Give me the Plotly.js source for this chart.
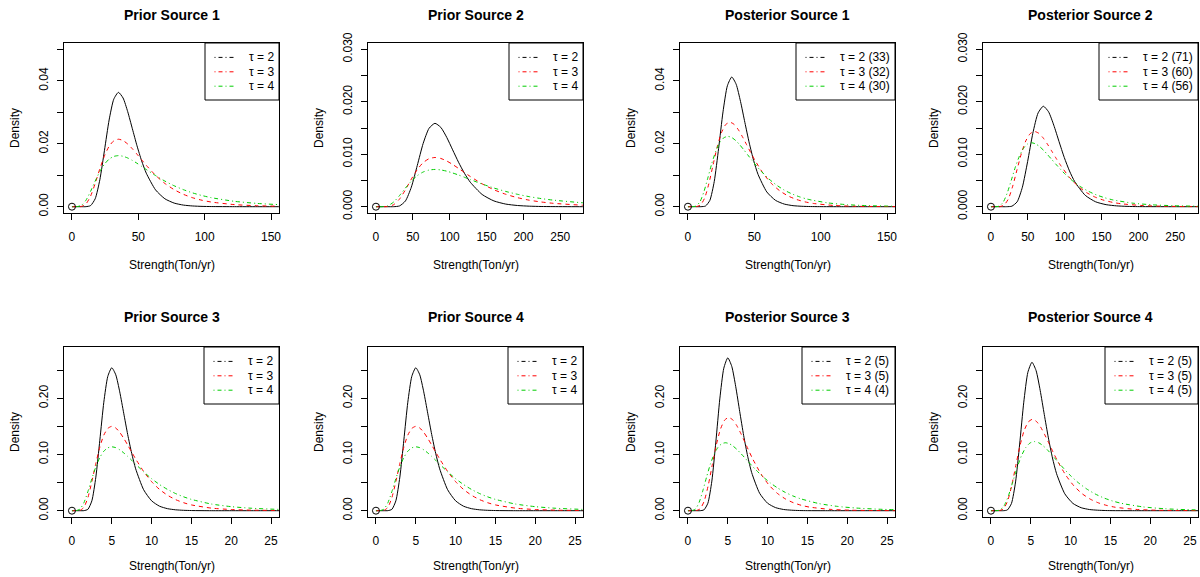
<!DOCTYPE html>
<html><head><meta charset="utf-8">
<script src="https://cdn.plot.ly/plotly-3.0.1.min.js"></script>
<style>html,body{margin:0;padding:0;background:#fff}#chart{width:1200px;height:577px}</style>
</head><body><div id="chart"></div>
<script>
// ---------------- data ----------------
const panelTitles = ["Prior Source 1","Prior Source 2","Posterior Source 1","Posterior Source 2",
                     "Prior Source 3","Prior Source 4","Posterior Source 3","Posterior Source 4"];
const xAxisLabel = "Strength(Ton/yr)";
const yAxisLabel = "Density";

const priorLegend = ["τ = 2","τ = 3","τ = 4"];
const post1Legend = ["τ = 2 (33)","τ = 3 (32)","τ = 4 (30)"];
const post2Legend = ["τ = 2 (71)","τ = 3 (60)","τ = 4 (56)"];
const post3Legend = ["τ = 2 (5)","τ = 3 (5)","τ = 4 (4)"];
const post4Legend = ["τ = 2 (5)","τ = 3 (5)","τ = 4 (5)"];

// tick values / labels
const xTicks150 = [0,50,100,150];
const xTicks270 = [0,50,100,150,200,250];
const xTicks25  = [0,5,10,15,20,25];
const yTicks05  = [0,0.01,0.02,0.03,0.04,0.05];
const yLabels05 = ["0.00","","0.02","","0.04",""];
const yTicks03  = [0,0.005,0.01,0.015,0.02,0.025,0.03];
const yLabels03 = ["0.000","","0.010","","0.020","","0.030"];
const yTicks28  = [0,0.05,0.1,0.15,0.2,0.25];
const yLabels28 = ["0.00","","0.10","","0.20",""];

// Prior Source 1
const prior1X    = [0,3.5,7,10.5,14,17.5,21,24.5,28,31.5,35,38.5,42,45.5,49,52.5,56,63,70,77,84,91,98,105,122.5,140,157.5,182,210];
const prior1Tau2 = [0,0,0,0.00001,0.00034,0.00252,0.00853,0.01792,0.02755,0.03415,0.03632,0.03454,0.0302,0.02478,0.01936,0.01457,0.01065,0.00533,0.00252,0.00115,0.00051,0.00023,0.0001,0.00005,0.00001,0,0,0,0];
const prior1Tau3 = [0,0,0.00007,0.00086,0.00333,0.0074,0.01203,0.01617,0.0192,0.02092,0.02144,0.02101,0.01991,0.0184,0.01668,0.01489,0.01314,0.00997,0.00739,0.00541,0.00392,0.00283,0.00205,0.00148,0.00066,0.0003,0.00014,0.00005,0.00002];
const prior1Tau4 = [0,0.00001,0.00039,0.00202,0.00486,0.00814,0.01116,0.01352,0.01511,0.01597,0.01623,0.01602,0.01548,0.01471,0.0138,0.01282,0.01182,0.00988,0.00814,0.00665,0.0054,0.00437,0.00354,0.00287,0.0017,0.00103,0.00063,0.00033,0.00016];

// Prior Source 2
const prior2X    = [0,8,16,24,32,40,48,56,64,72,80,88,96,104,112,120,128,144,160,176,192,208,224,240,280,320,360,416,480];
const prior2Tau2 = [0,0,0,0.000005,0.00015,0.0011,0.00373,0.00784,0.01205,0.01494,0.01589,0.01511,0.01321,0.01084,0.00847,0.00637,0.00466,0.00233,0.0011,0.0005,0.00023,0.0001,0.00004,0.00002,0,0,0,0,0];
const prior2Tau3 = [0,0,0.00003,0.00038,0.00146,0.00324,0.00526,0.00708,0.0084,0.00915,0.00938,0.00919,0.00871,0.00805,0.0073,0.00652,0.00575,0.00436,0.00323,0.00237,0.00172,0.00124,0.0009,0.00065,0.00029,0.00013,0.00006,0.00002,0.00001];
const prior2Tau4 = [0,0,0.00017,0.00089,0.00213,0.00356,0.00488,0.00592,0.00661,0.00699,0.0071,0.00701,0.00677,0.00643,0.00604,0.00561,0.00517,0.00432,0.00356,0.00291,0.00236,0.00191,0.00155,0.00126,0.00075,0.00045,0.00028,0.00014,0.00007];

// Prior Source 3
const prior3X    = [0,0.5,1,1.5,2,2.5,3,3.5,4,4.5,5,5.5,6,6.5,7,7.5,8,9,10,11,12,13,14,15,17.5,20,22.5,26,30];
const prior3Tau2 = [0,0,0,0.0001,0.0024,0.0176,0.0597,0.1254,0.1929,0.239,0.2543,0.2418,0.2114,0.1734,0.1355,0.102,0.0745,0.0373,0.0176,0.008,0.0036,0.0016,0.0007,0.0003,0,0,0,0,0];
const prior3Tau3 = [0,0,0.0005,0.006,0.0233,0.0518,0.0842,0.1132,0.1344,0.1464,0.1501,0.1471,0.1394,0.1288,0.1168,0.1042,0.092,0.0698,0.0517,0.0378,0.0275,0.0198,0.0143,0.0103,0.0046,0.0021,0.001,0.0004,0.0001];
const prior3Tau4 = [0,0.0001,0.0028,0.0142,0.034,0.057,0.0781,0.0946,0.1058,0.1118,0.1136,0.1122,0.1083,0.1029,0.0966,0.0897,0.0827,0.0692,0.057,0.0465,0.0378,0.0306,0.0248,0.0201,0.0119,0.0072,0.0044,0.0023,0.0011];

// Prior Source 4
const prior4X    = [0,0.5,1,1.5,2,2.5,3,3.5,4,4.5,5,5.5,6,6.5,7,7.5,8,9,10,11,12,13,14,15,17.5,20,22.5,26,30];
const prior4Tau2 = [0,0,0,0.0001,0.0024,0.0176,0.0597,0.1254,0.1929,0.239,0.2543,0.2418,0.2114,0.1734,0.1355,0.102,0.0745,0.0373,0.0176,0.008,0.0036,0.0016,0.0007,0.0003,0,0,0,0,0];
const prior4Tau3 = [0,0,0.0005,0.006,0.0233,0.0518,0.0842,0.1132,0.1344,0.1464,0.1501,0.1471,0.1394,0.1288,0.1168,0.1042,0.092,0.0698,0.0517,0.0378,0.0275,0.0198,0.0143,0.0103,0.0046,0.0021,0.001,0.0004,0.0001];
const prior4Tau4 = [0,0.0001,0.0028,0.0142,0.034,0.057,0.0781,0.0946,0.1058,0.1118,0.1136,0.1122,0.1083,0.1029,0.0966,0.0897,0.0827,0.0692,0.057,0.0465,0.0378,0.0306,0.0248,0.0201,0.0119,0.0072,0.0044,0.0023,0.0011];

// Posterior Source 1
const post1Tau2X = [0,3.3,6.6,9.9,13.2,16.5,19.8,23.1,26.4,29.7,33,36.3,39.6,42.9,46.2,49.5,52.8,59.4,66,72.6,79.2,85.8,92.4,99,115.5,132,148.5,171.6,198];
const post1Tau2Y = [0,0,0,0.00001,0.00021,0.00201,0.00799,0.01851,0.03012,0.03842,0.04119,0.03891,0.03342,0.02672,0.02021,0.01465,0.01027,0.00469,0.00201,0.00083,0.00033,0.00013,0.00005,0.00002,0,0,0,0,0];
const post1Tau3X = [0,3.15,6.3,9.45,12.6,15.75,18.9,22.05,25.2,28.35,31.5,34.65,37.8,40.95,44.1,47.25,50.4,56.7,63,69.3,75.6,81.9,88.2,94.5,110.25,126,141.75,163.8,189];
const post1Tau3Y = [0,0,0.00003,0.00053,0.00277,0.00733,0.01326,0.01904,0.02347,0.02606,0.02685,0.0262,0.02455,0.02229,0.01977,0.01722,0.01478,0.01055,0.00732,0.005,0.00338,0.00228,0.00153,0.00103,0.00038,0.00015,0.00006,0.00002,0];
const post1Tau4X = [0,3,6,9,12,15,18,21,24,27,30,33,36,39,42,45,48,54,60,66,72,78,84,90,105,120,135,156,180];
const post1Tau4Y = [0,0,0.00019,0.00153,0.00473,0.00919,0.01379,0.01766,0.02038,0.02189,0.02234,0.02197,0.02101,0.01967,0.01812,0.01648,0.01485,0.01179,0.00919,0.00708,0.00541,0.00413,0.00315,0.0024,0.00123,0.00064,0.00034,0.00015,0.00006];

// Posterior Source 2
const post2Tau2X = [0,7.1,14.2,21.3,28.4,35.5,42.6,49.7,56.8,63.9,71,78.1,85.2,92.3,99.4,106.5,113.6,127.8,142,156.2,170.4,184.6,198.8,213,248.5,284,319.5,369.2,426];
const post2Tau2Y = [0,0,0,0,0.0001,0.00093,0.00371,0.0086,0.014,0.01786,0.01915,0.01809,0.01554,0.01242,0.00939,0.00681,0.00477,0.00218,0.00093,0.00039,0.00016,0.00006,0.00002,0.00001,0,0,0,0,0];
const post2Tau3X = [0,5.9,11.8,17.7,23.6,29.5,35.4,41.3,47.2,53.1,59,64.9,70.8,76.7,82.6,88.5,94.4,106.2,118,129.8,141.6,153.4,165.2,177,206.5,236,265.5,306.8,354];
const post2Tau3Y = [0,0,0.00001,0.00029,0.00148,0.00391,0.00708,0.01016,0.01253,0.01391,0.01434,0.01399,0.01311,0.0119,0.01056,0.00919,0.00789,0.00563,0.00391,0.00267,0.00181,0.00122,0.00082,0.00055,0.00021,0.00008,0.00003,0.00001,0];
const post2Tau4X = [0,5.5,11,16.5,22,27.5,33,38.5,44,49.5,55,60.5,66,71.5,77,82.5,88,99,110,121,132,143,154,165,192.5,220,247.5,286,330];
const post2Tau4Y = [0,0,0.0001,0.00084,0.00258,0.00501,0.00752,0.00963,0.01112,0.01194,0.01219,0.01198,0.01146,0.01073,0.00988,0.00899,0.0081,0.00643,0.00501,0.00386,0.00295,0.00225,0.00172,0.00131,0.00067,0.00035,0.00019,0.00008,0.00003];

// Posterior Source 3
const post3Tau2X = [0,0.5,1,1.5,2,2.5,3,3.5,4,4.5,5,5.5,6,6.5,7,7.5,8,9,10,11,12,13,14,15,17.5,20,22.5,26,30];
const post3Tau2Y = [0,0,0,0,0.0014,0.0133,0.0527,0.1221,0.1988,0.2535,0.2719,0.2568,0.2206,0.1763,0.1334,0.0967,0.0678,0.031,0.0133,0.0055,0.0022,0.0009,0.0003,0.0001,0,0,0,0,0];
const post3Tau3X = [0,0.51,1.02,1.53,2.04,2.55,3.06,3.57,4.08,4.59,5.1,5.61,6.12,6.63,7.14,7.65,8.16,9.18,10.2,11.22,12.24,13.26,14.28,15.3,17.85,20.4,22.95,26.52,30.6];
const post3Tau3Y = [0,0,0.0002,0.0033,0.0171,0.0453,0.0819,0.1176,0.145,0.1609,0.1659,0.1618,0.1516,0.1377,0.1221,0.1063,0.0913,0.0652,0.0452,0.0309,0.0209,0.0141,0.0094,0.0063,0.0024,0.0009,0.0004,0.0001,0];
const post3Tau4X = [0,0.47,0.94,1.41,1.88,2.35,2.82,3.29,3.76,4.23,4.7,5.17,5.64,6.11,6.58,7.05,7.52,8.46,9.4,10.34,11.28,12.22,13.16,14.1,16.45,18.8,21.15,24.44,28.2];
const post3Tau4Y = [0,0.0001,0.0029,0.0151,0.0362,0.0606,0.0831,0.1007,0.1125,0.119,0.1209,0.1193,0.1153,0.1095,0.1027,0.0955,0.088,0.0736,0.0606,0.0495,0.0402,0.0326,0.0264,0.0214,0.0127,0.0076,0.0047,0.0024,0.0012];

// Posterior Source 4
const post4Tau2X = [0,0.515,1.03,1.545,2.06,2.575,3.09,3.605,4.12,4.635,5.15,5.665,6.18,6.695,7.21,7.725,8.24,9.27,10.3,11.33,12.36,13.39,14.42,15.45,18.025,20.6,23.175,26.78,30.9];
const post4Tau2Y = [0,0,0,0,0.0013,0.0129,0.0512,0.1186,0.193,0.2462,0.264,0.2493,0.2142,0.1712,0.1295,0.0938,0.0658,0.0301,0.0129,0.0053,0.0021,0.0009,0.0003,0.0001,0,0,0,0,0];
const post4Tau3X = [0,0.52,1.04,1.56,2.08,2.6,3.12,3.64,4.16,4.68,5.2,5.72,6.24,6.76,7.28,7.8,8.32,9.36,10.4,11.44,12.48,13.52,14.56,15.6,18.2,20.8,23.4,27.04,31.2];
const post4Tau3Y = [0,0,0.0002,0.0032,0.0168,0.0444,0.0803,0.1153,0.1422,0.1578,0.1627,0.1587,0.1487,0.135,0.1198,0.1043,0.0895,0.0639,0.0444,0.0303,0.0205,0.0138,0.0093,0.0062,0.0023,0.0009,0.0004,0.0001,0];
const post4Tau4X = [0,0.545,1.09,1.635,2.18,2.725,3.27,3.815,4.36,4.905,5.45,5.995,6.54,7.085,7.63,8.175,8.72,9.81,10.9,11.99,13.08,14.17,15.26,16.35,19.075,21.8,24.525,28.34,32.7];
const post4Tau4Y = [0,0,0.001,0.0084,0.026,0.0506,0.0759,0.0972,0.1122,0.1205,0.123,0.1209,0.1156,0.1083,0.0997,0.0907,0.0817,0.0649,0.0506,0.039,0.0298,0.0227,0.0173,0.0132,0.0068,0.0035,0.0019,0.0008,0.0003];

// the open circle drawn at the origin of every panel
const originX = [0];
const originY = [0];

// ---------------- layout helpers ----------------
const W = 1200, H = 577;
const FONT = "Liberation Sans, Arial, Helvetica, sans-serif";
const colBox = [[64,279],[368,583],[680,895],[983,1198]];
const rowBox = [[43,213],[347,517]];
const px = v => v / W;
const py = v => 1 - v / H;

const scaleA = {xr:[-6,156],      xt:xTicks150, yr:[-0.002,0.052],    yt:yTicks05, yl:yLabels05};
const scaleB = {xr:[-10.8,280.8], xt:xTicks270, yr:[-0.0012,0.0312],  yt:yTicks03, yl:yLabels03};
const scaleC = {xr:[-1,26],       xt:xTicks25,  yr:[-0.0112,0.2912],  yt:yTicks28, yl:yLabels28};

const panels = [
  {row:0,col:0,scale:scaleA,legend:priorLegend,legW:74,
   curves:[[prior1X,prior1Tau2],[prior1X,prior1Tau3],[prior1X,prior1Tau4]]},
  {row:0,col:1,scale:scaleB,legend:priorLegend,legW:74,
   curves:[[prior2X,prior2Tau2],[prior2X,prior2Tau3],[prior2X,prior2Tau4]]},
  {row:0,col:2,scale:scaleA,legend:post1Legend,legW:99,
   curves:[[post1Tau2X,post1Tau2Y],[post1Tau3X,post1Tau3Y],[post1Tau4X,post1Tau4Y]]},
  {row:0,col:3,scale:scaleB,legend:post2Legend,legW:99,
   curves:[[post2Tau2X,post2Tau2Y],[post2Tau3X,post2Tau3Y],[post2Tau4X,post2Tau4Y]]},
  {row:1,col:0,scale:scaleC,legend:priorLegend,legW:75,
   curves:[[prior3X,prior3Tau2],[prior3X,prior3Tau3],[prior3X,prior3Tau4]]},
  {row:1,col:1,scale:scaleC,legend:priorLegend,legW:75,
   curves:[[prior4X,prior4Tau2],[prior4X,prior4Tau3],[prior4X,prior4Tau4]]},
  {row:1,col:2,scale:scaleC,legend:post3Legend,legW:93,
   curves:[[post3Tau2X,post3Tau2Y],[post3Tau3X,post3Tau3Y],[post3Tau4X,post3Tau4Y]]},
  {row:1,col:3,scale:scaleC,legend:post4Legend,legW:93,
   curves:[[post4Tau2X,post4Tau2Y],[post4Tau3X,post4Tau3Y],[post4Tau4X,post4Tau4Y]]}
];

const lineStyles = [
  {color:"#000000", dash:"solid"},
  {color:"#FF0000", dash:"4px,4px"},
  {color:"#00CD00", dash:"1px,3px,4px,3px"}
];
const legendDash = "1px,3px,4px,3px";

const data = [], shapes = [], annotations = [];
const layout = {
  width: W, height: H, margin:{l:0,r:0,t:0,b:0},
  paper_bgcolor:"#ffffff", plot_bgcolor:"#ffffff",
  showlegend:false, font:{family:FONT, color:"#000"}
};

panels.forEach((p, i) => {
  const n = i + 1;
  const xa = n === 1 ? "x" : "x" + n;
  const ya = n === 1 ? "y" : "y" + n;
  const [bx0, bx1] = colBox[p.col];
  const [by0, by1] = rowBox[p.row];

  const common = {
    showline:true, mirror:true, linecolor:"#000", linewidth:1,
    ticks:"outside", ticklen:6, tickwidth:1, tickcolor:"#000",
    showgrid:false, zeroline:false, fixedrange:true,
    tickfont:{family:FONT, size:12, color:"#000"}
  };
  layout["xaxis" + (n === 1 ? "" : n)] = Object.assign({}, common, {
    domain:[px(bx0), px(bx1)], range:p.scale.xr, anchor:ya,
    tickmode:"array", tickvals:p.scale.xt, ticktext:p.scale.xt.map(String),
    ticklabelstandoff:7
  });
  layout["yaxis" + (n === 1 ? "" : n)] = Object.assign({}, common, {
    domain:[py(by1), py(by0)], range:p.scale.yr, anchor:xa,
    tickmode:"array", tickvals:p.scale.yt, ticktext:p.scale.yl,
    tickangle:-90, ticklabelstandoff:4
  });

  p.curves.forEach((c, k) => {
    data.push({
      type:"scatter", mode:"lines", x:c[0], y:c[1], xaxis:xa, yaxis:ya,
      line:{color:lineStyles[k].color, dash:lineStyles[k].dash, width:1, shape:"spline", smoothing:0.6},
      hoverinfo:"skip"
    });
  });
  data.push({
    type:"scatter", mode:"markers", x:originX, y:originY, xaxis:xa, yaxis:ya,
    marker:{symbol:"circle-open", size:7, color:"#000", line:{width:1, color:"#000"}},
    cliponaxis:false, hoverinfo:"skip"
  });

  // panel title
  const cx = (bx0 + bx1) / 2;
  annotations.push({
    xref:"paper", yref:"paper", x:px(cx), y:py(p.row === 0 ? 15 : 317),
    xanchor:"center", yanchor:"middle", showarrow:false,
    text:"<b>" + panelTitles[i] + "</b>", font:{family:FONT, size:14, color:"#000"}
  });
  // x axis title
  annotations.push({
    xref:"paper", yref:"paper", x:px(cx), y:py(p.row === 0 ? 265 : 566),
    xanchor:"center", yanchor:"middle", showarrow:false,
    text:xAxisLabel, font:{family:FONT, size:12, color:"#000"}
  });
  // y axis title
  annotations.push({
    xref:"paper", yref:"paper", x:px(bx0 - 49), y:py((by0 + by1) / 2),
    xanchor:"center", yanchor:"middle", showarrow:false, textangle:-90,
    text:yAxisLabel, font:{family:FONT, size:12, color:"#000"}
  });

  // legend box
  const lx0 = bx1 - p.legW, lx1 = bx1, ly0 = by0, ly1 = by0 + 57;
  shapes.push({type:"rect", xref:"paper", yref:"paper",
    x0:px(lx0), x1:px(lx1), y0:py(ly1), y1:py(ly0),
    line:{color:"#000", width:1}, fillcolor:"rgba(255,255,255,0)"});
  p.legend.forEach((lab, k) => {
    const yy = by0 + 14.4 + 14.4 * k;
    shapes.push({type:"line", xref:"paper", yref:"paper",
      x0:px(lx0 + 9.5), x1:px(lx0 + 30.5), y0:py(yy), y1:py(yy),
      line:{color:lineStyles[k].color, width:1, dash:legendDash}});
    annotations.push({
      xref:"paper", yref:"paper", x:px(lx0 + 42), y:py(yy),
      xanchor:"left", yanchor:"middle", showarrow:false,
      text:lab, font:{family:FONT, size:12, color:"#000"}
    });
  });
});

layout.shapes = shapes;
layout.annotations = annotations;
Plotly.newPlot("chart", data, layout, {staticPlot:true, displayModeBar:false});
</script>
</body></html>
